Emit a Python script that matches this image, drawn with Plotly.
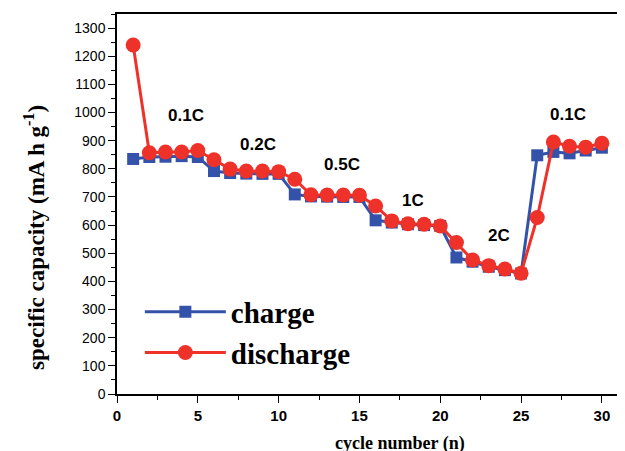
import plotly.graph_objects as go

cycles = list(range(1, 31))
charge = [835, 842, 843, 845, 842, 792, 785, 783, 782, 782,
          709, 702, 701, 700, 700, 617, 609, 603, 600, 597,
          485, 470, 452, 440, 428, 848, 860, 855, 865, 875]
discharge = [1240, 857, 860, 860, 865, 832, 799, 792, 792, 790,
             763, 708, 707, 707, 706, 668, 615, 605, 603, 597,
             538, 476, 456, 444, 429, 627, 895, 880, 877, 891]

rate_labels = ["0.1C", "0.2C", "0.5C", "1C", "2C", "0.1C"]
rate_x = [4.28, 8.72, 13.9, 18.3, 23.66, 27.93]
rate_y = [989, 888, 816, 686, 564, 994]

BLUE = "#3452aa"
RED = "#ee3129"

fig = go.Figure()
fig.add_trace(go.Scatter(
    x=cycles, y=charge, name="charge", mode="lines+markers",
    line=dict(color=BLUE, width=3),
    marker=dict(symbol="square", size=12, color=BLUE),
    legendgroup="a"))
fig.add_trace(go.Scatter(
    x=cycles, y=discharge, name="discharge", mode="lines+markers",
    line=dict(color=RED, width=3),
    marker=dict(symbol="circle", size=15, color=RED),
    legendgroup="b"))

for t, xx, yy in zip(rate_labels, rate_x, rate_y):
    fig.add_annotation(x=xx, y=yy, text="<b>%s</b>" % t, showarrow=False,
                       font=dict(family="Liberation Sans, Arial", size=17, color="black"))

# axis titles
fig.add_annotation(xref="paper", yref="paper", x=0.557, y=-0.130,
                   text="<b>cycle number (n)</b>", showarrow=False,
                   xanchor="center", yanchor="middle",
                   font=dict(family="Liberation Serif, Times New Roman", size=18, color="black"))
fig.add_annotation(xref="paper", yref="paper", x=-0.161, y=0.411,
                   text="<b>specific capacity (mA h g<sup>-1</sup>)</b>", showarrow=False,
                   textangle=-90, xanchor="center", yanchor="middle",
                   font=dict(family="Liberation Serif, Times New Roman", size=23, color="black"))

fig.update_layout(
    width=625, height=451,
    margin=dict(l=109, r=8, t=4, b=65),
    plot_bgcolor="white", paper_bgcolor="white",
    showlegend=True,
    legend=dict(x=0.045, y=0.162, xanchor="left", yanchor="middle",
                bgcolor="rgba(0,0,0,0)", itemwidth=81, tracegroupgap=0,
                font=dict(family="Liberation Serif, Times New Roman", size=29,
                          color="black", weight="bold")),
    xaxis=dict(range=[0, 31.43], dtick=5, tick0=0, ticks="outside", ticklen=7,
               tickwidth=1.3, tickcolor="black", showline=True, linecolor="black",
               linewidth=1.5, mirror=True, showgrid=False, zeroline=False,
               tickfont=dict(family="Liberation Sans, Arial", size=15, color="black", weight="bold"),
               minor=dict(dtick=2.5, ticks="outside", ticklen=4, tickcolor="black", showgrid=False)),
    yaxis=dict(range=[0, 1350], dtick=100, tick0=0, ticks="outside", ticklen=7,
               tickwidth=1.3, tickcolor="black", showline=True, linecolor="black",
               linewidth=1.5, showgrid=False, zeroline=False,
               tickfont=dict(family="Liberation Sans, Arial", size=14, color="black"),
               minor=dict(dtick=50, ticks="outside", ticklen=4, tickcolor="black", showgrid=False)),
)

fig.write_html("out.html")
